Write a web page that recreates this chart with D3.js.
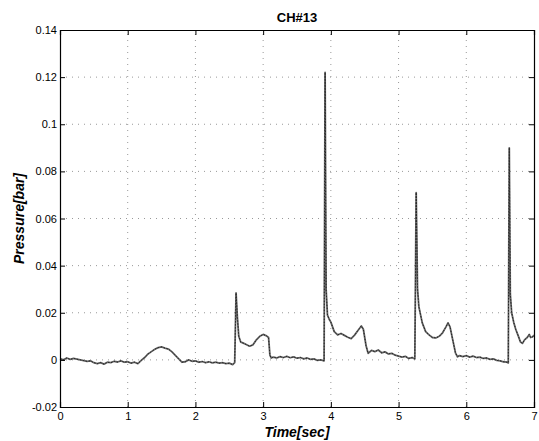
<!DOCTYPE html>
<html><head><meta charset="utf-8">
<script src="https://cdn.jsdelivr.net/npm/d3@7"></script>
<style>body{margin:0;background:#fff}</style>
</head><body>
<script>
const title = "CH#13";
const xLabel = "Time[sec]";
const yLabel = "Pressure[bar]";
const xTicks = [0,1,2,3,4,5,6,7];
const yTicks = [-0.02,0,0.02,0.04,0.06,0.08,0.1,0.12,0.14];
const yTickLabels = ["-0.02","0","0.02","0.04","0.06","0.08","0.1","0.12","0.14"];
const times = [
0,0.05,0.1,0.15,0.2,0.25,0.3,0.35,0.4,0.45,0.5,0.55,0.6,0.65,0.7,0.75,0.8,0.85,0.9,0.95,
1.0,1.05,1.1,1.15,1.2,1.25,1.3,1.35,1.4,1.45,1.5,1.55,1.6,1.65,1.7,1.75,1.8,1.85,1.9,1.95,
2.0,2.05,2.1,2.15,2.2,2.25,2.3,2.35,2.4,2.45,2.5,2.55,2.58,
2.6,2.62,2.64,2.67,2.7,2.75,2.8,2.85,2.9,2.95,3.0,3.05,3.08,3.1,3.12,3.15,3.2,3.25,3.3,3.35,3.4,3.45,3.5,3.55,3.6,3.65,3.7,3.75,3.8,3.85,3.9,
3.915,3.93,3.95,3.98,4.0,4.05,4.1,4.15,4.2,4.25,4.3,4.35,4.4,4.45,4.48,4.52,4.55,4.6,4.65,4.7,4.75,4.8,4.85,4.9,4.95,5.0,5.05,5.1,5.15,5.2,5.24,
5.26,5.28,5.3,5.35,5.4,5.45,5.5,5.55,5.6,5.65,5.7,5.73,5.76,5.8,5.84,5.87,5.9,5.95,6.0,6.05,6.1,6.15,6.2,6.25,6.3,6.35,6.4,6.45,6.5,6.55,6.6,6.62,
6.635,6.65,6.67,6.7,6.73,6.77,6.8,6.83,6.86,6.9,6.93,6.95,6.98,7.0];
const pressure = [
0.0005,0.0,0.0008,0.0002,0.0006,0.0003,0.0,-0.0003,-0.0006,-0.0004,-0.0012,-0.0016,-0.0012,-0.0018,-0.0010,-0.0012,-0.0006,-0.0009,-0.0004,-0.0010,
-0.0008,-0.0014,-0.0010,-0.0016,-0.0002,0.0010,0.0025,0.0035,0.0045,0.0052,0.0055,0.0050,0.0046,0.0035,0.0020,0.0005,-0.0010,-0.0008,0.0000,-0.0006,
-0.0004,-0.0010,-0.0007,-0.0012,-0.0008,-0.0013,-0.0010,-0.0014,-0.0012,-0.0016,-0.0014,-0.0020,-0.0012,
0.0284,0.018,0.010,0.0075,0.0072,0.0065,0.0058,0.0064,0.0085,0.0100,0.0108,0.0102,0.0095,0.0020,0.0008,0.0012,0.0008,0.0014,0.0010,0.0015,0.0009,0.0013,0.0007,0.0010,0.0004,0.0008,0.0002,0.0004,-0.0002,0.0000,-0.0004,
0.122,0.030,0.019,0.017,0.016,0.012,0.0106,0.0112,0.0104,0.0096,0.0090,0.0105,0.0125,0.0144,0.0130,0.0060,0.0028,0.0040,0.0035,0.0042,0.0030,0.0034,0.0025,0.0028,0.0020,0.0016,0.0012,0.0015,0.0006,0.0010,0.0004,
0.071,0.030,0.0225,0.0157,0.012,0.0106,0.0095,0.0093,0.0100,0.0115,0.0140,0.0157,0.0140,0.0085,0.0030,0.0013,0.0018,0.0014,0.0018,0.0012,0.0016,0.0010,0.0012,0.0006,0.0008,0.0002,0.0004,-0.0002,-0.0004,-0.0008,-0.0010,-0.0013,
0.090,0.028,0.020,0.016,0.013,0.010,0.0076,0.0070,0.0085,0.0095,0.0108,0.0095,0.0098,0.0105];

const W = 539, H = 441;
const m = {left:60, right:5, top:30, bottom:34};
const svg = d3.select("body").append("svg").attr("width",W).attr("height",H)
  .style("font-family","'Liberation Sans', Arial, Helvetica, sans-serif");
const x = d3.scaleLinear().domain([0,7]).range([m.left, W-m.right]);
const y = d3.scaleLinear().domain([-0.02,0.14]).range([H-m.bottom, m.top]);
const x0 = x.range()[0], x1 = x.range()[1], y0 = y.range()[0], y1 = y.range()[1];

// grid
const g = svg.append("g");
g.selectAll(".gx").data(xTicks.slice(1,-1)).join("line")
  .attr("x1",d=>x(d)).attr("x2",d=>x(d)).attr("y1",y0).attr("y2",y1)
  .attr("stroke","#999").attr("stroke-width",1).attr("stroke-dasharray","1,5");
g.selectAll(".gy").data(yTicks.slice(1,-1)).join("line")
  .attr("y1",d=>y(d)).attr("y2",d=>y(d)).attr("x1",x0).attr("x2",x1)
  .attr("stroke","#999").attr("stroke-width",1).attr("stroke-dasharray","1,5");

// data line
const line = d3.line().x((d,i)=>x(times[i])).y(d=>y(d));
svg.append("path").datum(pressure).attr("d",line)
  .attr("fill","none").attr("stroke","#666").attr("stroke-width",1.8).attr("stroke-linejoin","round");
svg.append("path").datum(pressure).attr("d",line)
  .attr("fill","none").attr("stroke","#111").attr("stroke-width",0.8).attr("stroke-dasharray","1.5,1.5");

// axes (ticks inward)
const fmt = d => yTickLabels[yTicks.indexOf(d)];
const axB = d3.axisBottom(x).tickValues(xTicks).tickSize(-5).tickPadding(5).tickFormat(d3.format("d"));
const axL = d3.axisLeft(y).tickValues(yTicks).tickSize(-5).tickPadding(3).tickFormat(fmt);
const axT = d3.axisTop(x).tickValues(xTicks).tickSize(-5).tickFormat("");
const axR = d3.axisRight(y).tickValues(yTicks).tickSize(-5).tickFormat("");
function style(sel){
  sel.select(".domain").attr("stroke","#000").attr("stroke-width",1.2);
  sel.selectAll(".tick line").attr("stroke","#000");
  sel.selectAll("text").attr("fill","#000").style("font-size","11px");
}
svg.append("g").attr("transform",`translate(0,${y0})`).call(axB).call(style);
svg.append("g").attr("transform",`translate(${x0},0)`).call(axL).call(style);
svg.append("g").attr("transform",`translate(0,${y1})`).call(axT).call(style);
svg.append("g").attr("transform",`translate(${x1},0)`).call(axR).call(style);

svg.append("text").attr("x",(x0+x1)/2).attr("y",22).attr("text-anchor","middle")
  .style("font-size","13px").style("font-weight","bold").text(title);
svg.append("text").attr("x",(x0+x1)/2).attr("y",437).attr("text-anchor","middle")
  .style("font-size","14px").style("font-weight","bold").style("font-style","italic").text(xLabel);
svg.append("text").attr("transform",`translate(24,${(y0+y1)/2}) rotate(-90)`).attr("text-anchor","middle")
  .style("font-size","14px").style("font-weight","bold").style("font-style","italic").text(yLabel);
</script>
</body></html>
